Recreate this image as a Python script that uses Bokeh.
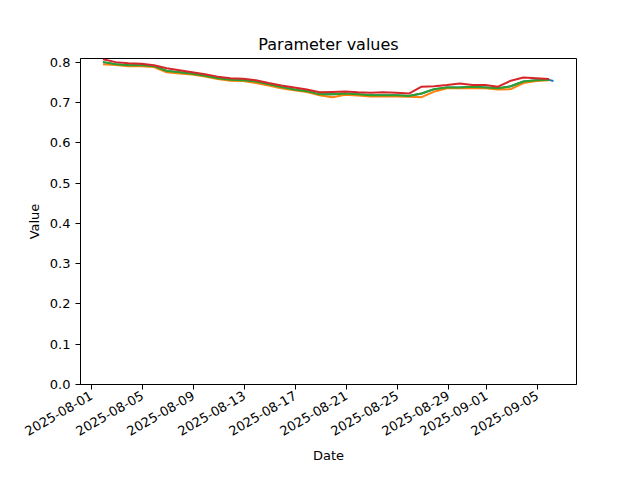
import math
from datetime import datetime, timedelta
from bokeh.plotting import figure
from bokeh.models import Range1d, FixedTicker, DatetimeTickFormatter, PrintfTickFormatter
from bokeh.embed import file_html
from bokeh.resources import INLINE

start = datetime(2025, 8, 1, 21, 36)
dates = [start + timedelta(days=k) for k in range(36)]
dates_blue = dates + [datetime(2025, 9, 6, 6, 0)]

red = [0.807, 0.800, 0.797, 0.796, 0.792, 0.785, 0.780, 0.775, 0.770, 0.764,
       0.760, 0.759, 0.755, 0.748, 0.742, 0.737, 0.732, 0.725, 0.726, 0.727,
       0.725, 0.724, 0.725, 0.724, 0.722, 0.739, 0.740, 0.743, 0.747, 0.743,
       0.743, 0.739, 0.754, 0.762, 0.760, 0.758]
green = [0.800, 0.795, 0.792, 0.792, 0.790, 0.778, 0.775, 0.771, 0.766, 0.760,
         0.756, 0.755, 0.752, 0.745, 0.738, 0.732, 0.728, 0.720, 0.720, 0.722,
         0.720, 0.718, 0.718, 0.718, 0.716, 0.722, 0.733, 0.737, 0.737, 0.739,
         0.737, 0.735, 0.740, 0.752, 0.755, 0.756]
orange = [0.795, 0.793, 0.790, 0.790, 0.788, 0.775, 0.772, 0.769, 0.764, 0.758,
          0.754, 0.753, 0.748, 0.742, 0.735, 0.730, 0.726, 0.718, 0.713, 0.719,
          0.717, 0.715, 0.715, 0.715, 0.714, 0.713, 0.727, 0.735, 0.735, 0.736,
          0.735, 0.732, 0.733, 0.748, 0.753, 0.755]
blue = green + [0.753]

tick_dates = [datetime(2025, 8, 1), datetime(2025, 8, 5), datetime(2025, 8, 9),
              datetime(2025, 8, 13), datetime(2025, 8, 17), datetime(2025, 8, 21),
              datetime(2025, 8, 25), datetime(2025, 8, 29), datetime(2025, 9, 1),
              datetime(2025, 9, 5)]
y_ticks = [0.0, 0.1, 0.2, 0.3, 0.4, 0.5, 0.6, 0.7, 0.8]

def ms(d):
    return (d - datetime(1970, 1, 1)).total_seconds() * 1000.0

day_ms = 86400000.0
x_left = ms(datetime(2025, 8, 1)) - 0.863 * day_ms
x_right = x_left + 38.92 * day_ms

p = figure(x_axis_type="datetime", output_backend="svg", toolbar_location=None,
           frame_width=496, frame_height=326,
           min_border_left=80, min_border_right=48, min_border_top=58, min_border_bottom=80,
           x_range=Range1d(x_left, x_right), y_range=Range1d(0, 0.809),
           title="Parameter values")

p.title.align = "center"
p.title.text_font = "DejaVu Sans"
p.title.text_font_size = "16px"
p.title.text_font_style = "normal"
p.title.text_color = "black"

p.xgrid.visible = False
p.ygrid.visible = False
p.outline_line_color = "black"
p.outline_line_alpha = 1.0
p.outline_line_width = 1

for ax in (p.xaxis[0], p.yaxis[0]):
    ax.axis_line_color = "black"
    ax.major_tick_line_color = "black"
    ax.major_tick_out = 5
    ax.major_tick_in = 0
    ax.minor_tick_line_color = None
    ax.major_label_text_font = "DejaVu Sans"
    ax.major_label_text_font_size = "13px"
    ax.major_label_text_color = "black"
    ax.axis_label_text_font = "DejaVu Sans"
    ax.axis_label_text_font_size = "13px"
    ax.axis_label_text_font_style = "normal"
    ax.axis_label_text_color = "black"

p.xaxis.ticker = FixedTicker(ticks=[ms(d) for d in tick_dates])
p.xaxis.formatter = DatetimeTickFormatter(days="%Y-%m-%d", months="%Y-%m-%d",
                                          hours="%Y-%m-%d", years="%Y-%m-%d")
p.xaxis.major_label_orientation = math.pi / 6
p.xaxis.axis_label = "Date"
p.yaxis.ticker = FixedTicker(ticks=y_ticks)
p.yaxis.formatter = PrintfTickFormatter(format="%.1f")
p.yaxis.axis_label = "Value"

p.line(dates_blue, blue, line_color="#1f77b4", line_width=2)
p.line(dates, orange, line_color="#ff7f0e", line_width=2)
p.line(dates, green, line_color="#2ca02c", line_width=2)
p.line(dates, red, line_color="#d62728", line_width=2)

open("out.html", "w").write(file_html(p, INLINE))
